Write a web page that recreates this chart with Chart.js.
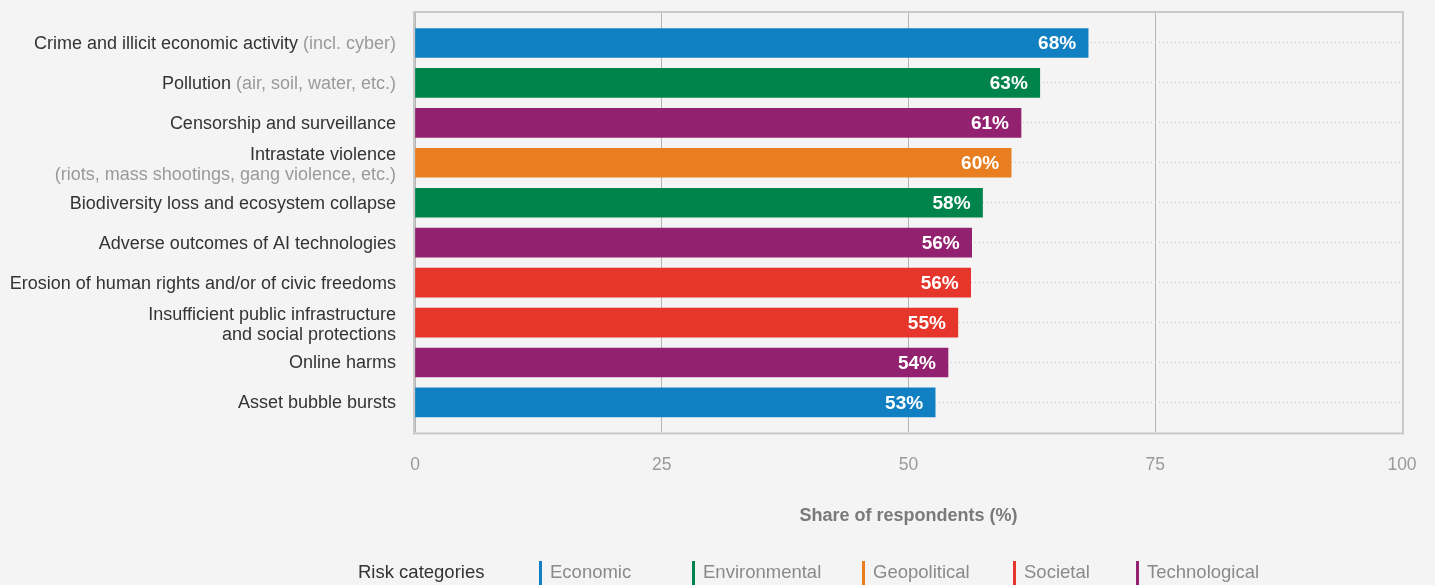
<!DOCTYPE html>
<html>
<head>
<meta charset="utf-8">
<script src="https://cdn.jsdelivr.net/npm/chart.js@4"></script>
<style>
  html, body { margin: 0; padding: 0; background: #f4f4f4; }
  #wrap { width: 1435px; height: 585px; position: relative; }
</style>
</head>
<body>
<div id="wrap"><canvas id="c" width="1435" height="585"></canvas></div>
<script>
// ---- Data ----
const riskMain = [
  "Crime and illicit economic activity",
  "Pollution",
  "Censorship and surveillance",
  "Intrastate violence",
  "Biodiversity loss and ecosystem collapse",
  "Adverse outcomes of AI technologies",
  "Erosion of human rights and/or of civic freedoms",
  "Insufficient public infrastructure",
  "Online harms",
  "Asset bubble bursts"
];
const riskNote = [
  " (incl. cyber)",
  " (air, soil, water, etc.)",
  "",
  "(riots, mass shootings, gang violence, etc.)",
  "",
  "",
  "",
  "and social protections",
  "",
  ""
];
const noteOnNewLine = [false, false, false, true, false, false, false, true, false, false];
const noteIsGray = [true, true, false, true, false, false, false, false, false, false];
const shareValues = [68.2, 63.3, 61.4, 60.4, 57.5, 56.4, 56.3, 55.0, 54.0, 52.7];
const riskCategory = ["Economic", "Environmental", "Technological", "Geopolitical", "Environmental",
                      "Technological", "Societal", "Societal", "Technological", "Economic"];
const categoryNames = ["Economic", "Environmental", "Geopolitical", "Societal", "Technological"];
const categoryColors = ["#1180c3", "#00844b", "#e87e1f", "#e6352b", "#92216f"];
const xTickValues = [0, 25, 50, 75, 100];
const axisTitle = "Share of respondents (%)";
const legendTitle = "Risk categories";

const FONT = "'Liberation Sans', Arial, Helvetica, sans-serif";
const colorOf = c => categoryColors[categoryNames.indexOf(c)];

const framePlugin = {
  id: 'frame',
  beforeDatasetsDraw(chart) {
    const {ctx, chartArea: a} = chart;
    ctx.save();
    ctx.strokeStyle = '#c9c9c9';
    ctx.lineWidth = 2;
    ctx.strokeRect(a.left - 1, a.top - 1, a.right - a.left + 2, a.bottom - a.top + 2);
    ctx.restore();
  }
};

const labelPlugin = {
  id: 'labels',
  afterDatasetsDraw(chart) {
    const {ctx, chartArea: a} = chart;
    const ys = chart.scales.y;
    ctx.save();
    ctx.textBaseline = 'middle';
    // category labels
    riskMain.forEach((main, i) => {
      const yc = ys.getPixelForValue(i);
      const xr = a.left - 19;
      ctx.font = `18px ${FONT}`;
      ctx.textAlign = 'right';
      if (noteOnNewLine[i]) {
        ctx.fillStyle = '#333333';
        ctx.fillText(main, xr, yc - 7.5);
        ctx.fillStyle = noteIsGray[i] ? '#9a9a9a' : '#333333';
        ctx.fillText(riskNote[i], xr, yc + 12);
      } else {
        let x = xr;
        if (riskNote[i]) {
          ctx.fillStyle = noteIsGray[i] ? '#9a9a9a' : '#333333';
          ctx.fillText(riskNote[i], x, yc + 1);
          x -= ctx.measureText(riskNote[i]).width;
        }
        ctx.fillStyle = '#333333';
        ctx.fillText(main, x, yc + 1);
      }
    });
    // value labels
    const meta = chart.getDatasetMeta(0);
    ctx.font = `bold 19px ${FONT}`;
    ctx.fillStyle = '#ffffff';
    ctx.textAlign = 'right';
    meta.data.forEach((bar, i) => {
      ctx.fillText(Math.round(shareValues[i]) + '%', bar.x - 12, bar.y + 1);
    });
    // legend
    const legendX = [539, 692, 862, 1013, 1136];
    const ly = 573;
    ctx.textAlign = 'left';
    ctx.font = `18.5px ${FONT}`;
    ctx.fillStyle = '#333333';
    ctx.fillText(legendTitle, 358, ly);
    categoryNames.forEach((n, k) => {
      ctx.fillStyle = categoryColors[k];
      ctx.fillRect(legendX[k], 561, 3, 24);
      ctx.fillStyle = '#8a8a8a';
      ctx.fillText(n, legendX[k] + 11, ly);
    });
    ctx.restore();
  }
};

new Chart(document.getElementById('c'), {
  type: 'bar',
  data: {
    datasets: [{
      data: shareValues.map((v, i) => ({x: v, y: i})),
      backgroundColor: riskCategory.map(colorOf),
      barThickness: 29,
      borderWidth: 0
    }]
  },
  options: {
    indexAxis: 'y',
    responsive: false,
    animation: false,
    events: [],
    layout: { padding: { left: 415, right: 33, top: 13, bottom: 58 } },
    plugins: { legend: { display: false }, tooltip: { enabled: false } },
    scales: {
      x: {
        type: 'linear',
        min: 0, max: 100,
        afterBuildTicks(s) { s.ticks = xTickValues.map(v => ({value: v})); },
        afterFit(s) { s.paddingLeft = 0; s.paddingRight = 0; },
        grid: { color: '#b5b5b5', lineWidth: 1, drawTicks: false },
        border: { display: false },
        ticks: { padding: 22, color: '#9a9a9a', font: { family: FONT, size: 17.5 }, maxRotation: 0 },
        title: { display: true, text: axisTitle, color: '#7a7a7a',
                 font: { family: FONT, size: 18, weight: 'bold' }, padding: { top: 8, bottom: 0 } }
      },
      y: {
        type: 'linear',
        reverse: true,
        offset: false,
        min: -0.75, max: 9.75,
        afterBuildTicks(s) { s.ticks = riskMain.map((_, i) => ({value: i})); },
        afterFit(s) { s.width = 0; s.paddingTop = 0; s.paddingBottom = 0; },
        grid: { color: '#c8c8c8', lineWidth: 1, drawTicks: false, offset: false },
        border: { display: false, dash: [1, 3] },
        ticks: { display: false }
      }
    }
  },
  plugins: [framePlugin, labelPlugin]
});
</script>
</body>
</html>
